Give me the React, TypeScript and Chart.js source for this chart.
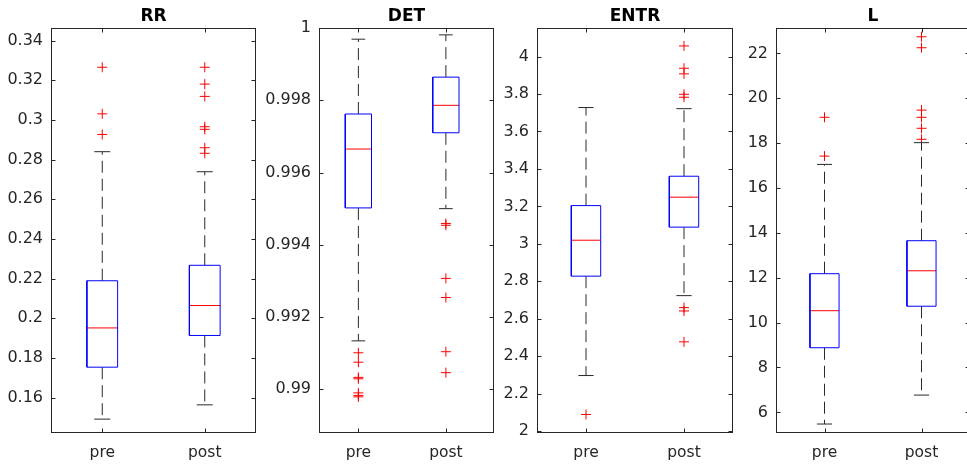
import React, { useEffect, useRef } from 'react';
import { Chart, registerables } from 'chart.js';

Chart.register(...registerables);

// ---------- data ----------
const GROUPS = ['pre', 'post'];

// stats order: [lower whisker, Q1, median, Q3, upper whisker]
const RR_PRE = [0.1491, 0.1753, 0.1951, 0.2189, 0.284];
const RR_POST = [0.1563, 0.1913, 0.2064, 0.2267, 0.2739];
const RR_PRE_OUT = [0.3266, 0.3031, 0.2927];
const RR_POST_OUT = [0.3266, 0.3181, 0.3119, 0.2966, 0.2953, 0.286, 0.2832];
const RR_TICKS = [0.16, 0.18, 0.2, 0.22, 0.24, 0.26, 0.28, 0.3, 0.32, 0.34];
const RR_LIMITS = [0.1421, 0.3464];

const DET_PRE = [0.99134, 0.99502, 0.99665, 0.99762, 0.99969];
const DET_POST = [0.995, 0.9971, 0.99786, 0.99864, 0.99981];
const DET_PRE_OUT = [0.99101, 0.99075, 0.99033, 0.99029, 0.9899, 0.98983, 0.98979];
const DET_POST_OUT = [0.99459, 0.99454, 0.99307, 0.99254, 0.99104, 0.99046];
const DET_TICKS = [0.99, 0.992, 0.994, 0.996, 0.998, 1];
const DET_LIMITS = [0.98879, 1.0];

const ENTR_PRE = [2.296, 2.827, 3.019, 3.204, 3.728];
const ENTR_POST = [2.723, 3.089, 3.249, 3.361, 3.722];
const ENTR_PRE_OUT = [2.088];
const ENTR_POST_OUT = [4.057, 3.938, 3.908, 3.799, 3.783, 2.659, 2.641, 2.476];
const ENTR_TICKS = [2, 2.2, 2.4, 2.6, 2.8, 3, 3.2, 3.4, 3.6, 3.8, 4];
const ENTR_LIMITS = [1.989, 4.153];

const L_PRE = [5.48, 8.88, 10.53, 12.18, 17.05];
const L_POST = [6.77, 10.73, 12.31, 13.65, 18.02];
const L_PRE_OUT = [19.15, 17.42];
const L_POST_OUT = [22.74, 22.25, 19.47, 19.15, 18.66, 18.17];
const L_TICKS = [6, 8, 10, 12, 14, 16, 18, 20, 22];
const L_LIMITS = [5.08, 23.13];

// ---------- layout / style ----------
const CW = 980;
const CH = 466;
const TOP = 28;
const BOTTOM = 433;
const YW = 60;
const XH = 33;
const TICK = 4;
const BOX_HALF = 0.15;
const CAP_HALF = 0.078;
const BLUE = '#0000ff';
const RED = '#ff0000';
const WHISK = '#2a2a2a';
const AXIS = '#262626';
const TXT = '#262626';
const FONT = '"DejaVu Sans", "Liberation Sans", Arial, sans-serif';

const PANELS = [
  { title: 'RR', pre: RR_PRE, post: RR_POST, preOut: RR_PRE_OUT, postOut: RR_POST_OUT, ticks: RR_TICKS, limits: RR_LIMITS, xLimits: [0.5, 2.5], left: 51, right: 256 },
  { title: 'DET', pre: DET_PRE, post: DET_POST, preOut: DET_PRE_OUT, postOut: DET_POST_OUT, ticks: DET_TICKS, limits: DET_LIMITS, xLimits: [0.55, 2.55], left: 319, right: 494 },
  { title: 'ENTR', pre: ENTR_PRE, post: ENTR_POST, preOut: ENTR_PRE_OUT, postOut: ENTR_POST_OUT, ticks: ENTR_TICKS, limits: ENTR_LIMITS, xLimits: [0.5, 2.5], left: 537, right: 733 },
  { title: 'L', pre: L_PRE, post: L_POST, preOut: L_PRE_OUT, postOut: L_POST_OUT, ticks: L_TICKS, limits: L_LIMITS, xLimits: [0.5, 2.5], left: 776, right: 970 },
];

function seg(data: { x: number; y: number }[], color: string, dash: number[] = []) {
  return {
    data,
    showLine: true,
    borderColor: color,
    backgroundColor: color,
    borderWidth: 1,
    borderDash: dash,
    pointRadius: 0,
    pointHoverRadius: 0,
    fill: false,
    tension: 0,
  };
}

function boxDatasets(stats: number[], outs: number[], pos: number) {
  const [lo, q1, med, q3, hi] = stats;
  const a = pos - BOX_HALF;
  const b = pos + BOX_HALF;
  return [
    seg([{ x: pos, y: q3 }, { x: pos, y: hi }], WHISK, [12, 6]),
    seg([{ x: pos, y: q1 }, { x: pos, y: lo }], WHISK, [12, 6]),
    seg([{ x: pos - CAP_HALF, y: hi }, { x: pos + CAP_HALF, y: hi }], WHISK),
    seg([{ x: pos - CAP_HALF, y: lo }, { x: pos + CAP_HALF, y: lo }], WHISK),
    seg([{ x: a, y: q1 }, { x: b, y: q1 }, { x: b, y: q3 }, { x: a, y: q3 }, { x: a, y: q1 }], BLUE),
    seg([{ x: a, y: med }, { x: b, y: med }], RED),
    {
      data: outs.map((y) => ({ x: pos, y })),
      showLine: false,
      pointStyle: 'cross',
      pointRadius: 5,
      pointHoverRadius: 5,
      borderColor: RED,
      backgroundColor: RED,
      pointBorderColor: RED,
      pointBorderWidth: 1,
      borderWidth: 1,
    },
  ];
}

function fmt(v: number) {
  return String(Number(v.toFixed(4)));
}

const framePlugin = {
  id: 'frame',
  afterDraw(chart: any, _args: any, opts: any) {
    const { ctx, chartArea: a, scales } = chart;
    const l = Math.round(a.left) + 0.5;
    const r = Math.round(a.right) - 0.5;
    const t = Math.round(a.top) + 0.5;
    const bt = Math.round(a.bottom) - 0.5;
    ctx.save();
    ctx.strokeStyle = AXIS;
    ctx.lineWidth = 1;
    ctx.setLineDash([]);
    ctx.strokeRect(l, t, r - l, bt - t);
    ctx.beginPath();
    scales.y.ticks.forEach((tk: any) => {
      const y = Math.round(scales.y.getPixelForValue(tk.value)) + 0.5;
      ctx.moveTo(l, y);
      ctx.lineTo(l + TICK, y);
      ctx.moveTo(r, y);
      ctx.lineTo(r - TICK, y);
    });
    scales.x.ticks.forEach((tk: any) => {
      const x = Math.round(scales.x.getPixelForValue(tk.value)) + 0.5;
      ctx.moveTo(x, bt);
      ctx.lineTo(x, bt - TICK);
      ctx.moveTo(x, t);
      ctx.lineTo(x, t + TICK);
    });
    ctx.stroke();
    ctx.font = 'bold 17px ' + FONT;
    ctx.fillStyle = '#000';
    ctx.textAlign = 'center';
    ctx.textBaseline = 'alphabetic';
    ctx.fillText(opts.title, (a.left + a.right) / 2, a.top - 7.3);
    ctx.restore();
  },
};

function BoxPanel({ panel }: { panel: (typeof PANELS)[number] }) {
  const ref = useRef<HTMLCanvasElement>(null);
  useEffect(() => {
    if (!ref.current) return;
    const chart = new Chart(ref.current, {
      type: 'scatter',
      data: {
        datasets: [...boxDatasets(panel.pre, panel.preOut, 1), ...boxDatasets(panel.post, panel.postOut, 2)] as any,
      },
      plugins: [framePlugin as any],
      options: {
        responsive: false,
        animation: false,
        devicePixelRatio: 1,
        events: [],
        layout: {
          padding: { left: panel.left - YW, right: CW - panel.right, top: TOP, bottom: CH - BOTTOM - XH },
        },
        plugins: {
          legend: { display: false },
          tooltip: { enabled: false },
          title: { display: false },
          frame: { title: panel.title },
        } as any,
        scales: {
          x: {
            type: 'linear',
            min: panel.xLimits[0],
            max: panel.xLimits[1],
            grid: { display: false, drawTicks: false },
            border: { display: false },
            afterBuildTicks: (s: any) => {
              s.ticks = GROUPS.map((_g, i) => ({ value: i + 1 }));
            },
            afterFit: (s: any) => {
              s.height = XH;
            },
            ticks: {
              autoSkip: false,
              maxRotation: 0,
              padding: 11,
              color: TXT,
              font: { family: FONT, size: 15.5 },
              callback: (v: any) => GROUPS[Math.round(Number(v)) - 1],
            },
          },
          y: {
            type: 'linear',
            min: panel.limits[0],
            max: panel.limits[1],
            grid: { display: false, drawTicks: false },
            border: { display: false },
            afterBuildTicks: (s: any) => {
              s.ticks = panel.ticks.map((v) => ({ value: v }));
            },
            afterFit: (s: any) => {
              s.width = YW;
            },
            ticks: {
              autoSkip: false,
              padding: 8,
              color: TXT,
              font: { family: FONT, size: 16 },
              callback: (v: any) => fmt(Number(v)),
            },
          },
        },
      } as any,
    });
    return () => chart.destroy();
  }, [panel]);
  return (
    <canvas
      ref={ref}
      width={CW}
      height={CH}
      style={{ position: 'absolute', left: 0, top: 0, width: CW + 'px', height: CH + 'px' }}
    />
  );
}

export default function App() {
  return (
    <div
      style={{
        position: 'absolute',
        left: 0,
        top: 0,
        width: 967,
        height: 466,
        overflow: 'hidden',
        background: '#ffffff',
      }}
    >
      {PANELS.map((p) => (
        <BoxPanel key={p.title} panel={p} />
      ))}
    </div>
  );
}
